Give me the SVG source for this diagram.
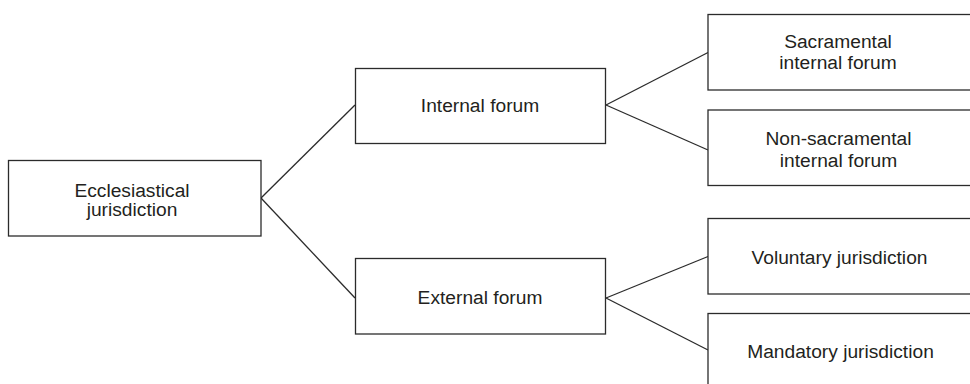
<svg xmlns="http://www.w3.org/2000/svg" width="970" height="384" viewBox="0 0 970 384">
<style>
.box{fill:#fff;stroke:#2b2b2b;stroke-width:1.3}
.t{font-family:"Liberation Sans",Arial,sans-serif;font-size:19.2px;fill:#231f20;text-anchor:middle}
.c{stroke:#2b2b2b;stroke-width:1.3;fill:none}
</style>
<rect width="970" height="384" fill="#fff"/>
<g id="connectors">
<line class="c" x1="261" y1="198" x2="355" y2="105"/>
<line class="c" x1="261" y1="198" x2="355" y2="298"/>
<line class="c" x1="606" y1="105" x2="708" y2="52.5"/>
<line class="c" x1="606" y1="105" x2="708" y2="150"/>
<line class="c" x1="606" y1="298" x2="708" y2="256.5"/>
<line class="c" x1="606" y1="298" x2="708" y2="350"/>
</g>
<g id="ecclesiastical">
<rect class="box" x="8.5" y="160.5" width="252.5" height="75.5"/>
<text class="t" x="132" y="196.5">Ecclesiastical</text>
<text class="t" x="132" y="215.5">jurisdiction</text>
</g>
<g id="internal">
<rect class="box" x="355.5" y="68.5" width="250" height="75"/>
<text class="t" x="480" y="111.5">Internal forum</text>
</g>
<g id="external">
<rect class="box" x="355.5" y="258.5" width="250" height="75.5"/>
<text class="t" x="480" y="303.5">External forum</text>
</g>
<g id="sacramental">
<rect class="box" x="708" y="14.5" width="265" height="75.5"/>
<text class="t" x="838" y="47.5">Sacramental</text>
<text class="t" x="838" y="68.5">internal forum</text>
</g>
<g id="nonsacramental">
<rect class="box" x="708" y="110" width="265" height="75.5"/>
<text class="t" x="838.5" y="144.5">Non-sacramental</text>
<text class="t" x="838.5" y="166.5">internal forum</text>
</g>
<g id="voluntary">
<rect class="box" x="708" y="218.5" width="265" height="75.5"/>
<text class="t" x="839.5" y="263.5">Voluntary jurisdiction</text>
</g>
<g id="mandatory">
<rect class="box" x="708" y="313.5" width="265" height="75"/>
<text class="t" x="840.5" y="357.5">Mandatory jurisdiction</text>
</g>
</svg>
